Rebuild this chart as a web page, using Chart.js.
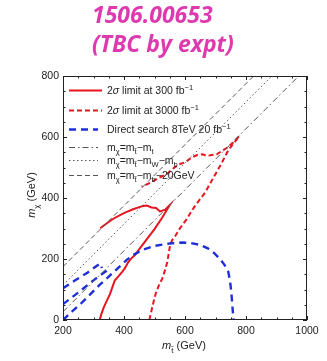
<!DOCTYPE html>
<html>
<head>
<meta charset="utf-8">
<script src="https://cdn.jsdelivr.net/npm/chart.js@4"></script>
<style>
  html, body { margin: 0; padding: 0; background: #fff; overflow: hidden; }
  #wrap { width: 327px; height: 361px; }
</style>
</head>
<body>
<div id="wrap"><canvas id="c" width="327" height="361" style="width:327px;height:361px"></canvas></div>
<script>
// Axis ranges and tick labels (GeV)
const xRange = [200, 1000];
const yRange = [0, 800];
const majorStep = 200;
const minorStep = 50;

// 2 sigma exclusion at 300 fb^-1 (closed contour: lower edge then upper edge)
const limit300 = [
  [320, 0], [326, 20], [333, 40], [343, 62], [354, 85], [362, 108], [370, 130],
  [381, 142], [392, 155], [403, 170], [414, 190], [425, 203], [436, 213],
  [452, 235], [475, 265], [500, 298], [525, 335], [550, 377],
  [535, 362], [518, 356], [505, 367], [490, 369], [475, 375], [463, 374],
  [452, 371], [430, 363], [405, 353], [387, 344], [365, 332], [345, 318], [322, 301]
];

// 2 sigma exclusion at 3000 fb^-1
const limit3000 = [
  [483, 0], [490, 30], [497, 60], [505, 90], [515, 115], [525, 135], [535, 165],
  [542, 190], [547, 220], [551, 245], [558, 262], [567, 274], [585, 303],
  [605, 330], [630, 370], [666, 418], [695, 470], [720, 514], [742, 557], [778, 603],
  [758, 582], [740, 566], [722, 555], [704, 543], [688, 541], [672, 538],
  [658, 543], [640, 541], [622, 533], [600, 517], [580, 510], [560, 496],
  [540, 478], [518, 468], [500, 458], [480, 447], [458, 437]
];

// 8 TeV direct search exclusion contours
const direct8Arc = [
  [200, 0], [230, 28], [260, 55], [290, 85], [320, 115], [350, 142], [380, 170],
  [409, 197], [430, 213], [460, 230], [500, 243], [550, 251], [590, 254],
  [620, 252], [650, 246], [675, 235], [695, 220], [715, 200], [730, 180],
  [742, 158], [748, 125], [752, 90], [755, 50], [759, 0]
];
const direct8StripLow = [[200, 52], [250, 90], [300, 130], [330, 152], [355, 170]];
const direct8StripHigh = [[200, 104], [240, 130], [280, 155], [310, 177], [321, 185], [326, 178], [327, 170]];

// Kinematic boundaries
const lineTop = [[200, 27], [973, 800]];      // m_chi = m_stop - m_t
const lineWb = [[200, 115], [885, 800]];      // m_chi = m_stop - m_W - m_b
const lineB20 = [[200, 175], [825, 800]];     // m_chi = m_stop - m_b - 20 GeV

const toXY = arr => arr.map(([x, y]) => ({ x, y }));

const RED = '#e8151f';
const BLUE = '#1f2fd8';
const GREY = '#555';
const FONT = '"Liberation Sans", Arial, sans-serif';

const lineDs = (data, color, width, dash) => ({
  data: toXY(data), showLine: true, pointRadius: 0, borderColor: color,
  borderWidth: width, borderDash: dash, fill: false, tension: 0,
  borderCapStyle: 'butt'
});

const dsTop = lineDs(lineTop, GREY, 1, [6, 3, 1.5, 3]);
const dsWb = lineDs(lineWb, GREY, 1, [1.5, 2.5]);
const dsB20 = lineDs(lineB20, GREY, 1, [5, 3]);
const dsArc = lineDs(direct8Arc, BLUE, 2.4, [7, 5]);
const dsStripLow = lineDs(direct8StripLow, BLUE, 2.4, [7, 5]);
const dsStripHigh = lineDs(direct8StripHigh, BLUE, 2.4, [7, 5]);
const ds3000 = lineDs(limit3000, RED, 2, [5, 3]);
const ds300 = lineDs(limit300, RED, 2, []);

// Rich text: segments with optional italic / subscript / superscript
function richWidth(ctx, segs, size) {
  let w = 0;
  for (const s of segs) {
    const sz = (s.sub || s.sup) ? size * 0.72 : size;
    ctx.font = `${s.it ? 'italic ' : ''}${sz}px ${FONT}`;
    w += ctx.measureText(s.t).width;
  }
  return w;
}
function rich(ctx, x, y, segs, size) {
  let cx = x;
  for (const s of segs) {
    const sz = (s.sub || s.sup) ? size * 0.72 : size;
    ctx.font = `${s.it ? 'italic ' : ''}${sz}px ${FONT}`;
    const dy = s.sub ? size * 0.32 : s.sup ? -size * 0.42 : 0;
    ctx.fillText(s.t, cx, y + dy);
    cx += ctx.measureText(s.t).width;
  }
}

const legendRows = [
  { ds: ds300, y: 90, len: 33, segs: [{ t: '2' }, { t: 'σ', it: true }, { t: ' limit at 300 fb' }, { t: '−1', sup: true }] },
  { ds: ds3000, y: 110, len: 33, segs: [{ t: '2' }, { t: 'σ', it: true }, { t: ' limit at 3000 fb' }, { t: '−1', sup: true }] },
  { ds: dsArc, y: 129, len: 29, segs: [{ t: 'Direct search 8TeV 20 fb' }, { t: '−1', sup: true }] },
  { ds: dsTop, y: 147, len: 29, segs: [{ t: 'm' }, { t: 'χ', sub: true }, { t: '=m' }, { t: 't̃', sub: true }, { t: '−m' }, { t: 't', sub: true }] },
  { ds: dsWb, y: 160, len: 29, segs: [{ t: 'm' }, { t: 'χ', sub: true }, { t: '=m' }, { t: 't̃', sub: true }, { t: '−m' }, { t: 'W', sub: true }, { t: '−m' }, { t: 'b', sub: true }] },
  { ds: dsB20, y: 175, len: 29, segs: [{ t: 'm' }, { t: 'χ', sub: true }, { t: '=m' }, { t: 't̃', sub: true }, { t: '−m' }, { t: 'b', sub: true }, { t: '−20GeV' }] }
];

const decorations = {
  id: 'decorations',
  afterDraw(chart) {
    const { ctx, chartArea: a, scales: { x, y } } = chart;
    ctx.save();

    // frame and inward ticks on all four sides
    ctx.strokeStyle = '#222';
    ctx.lineWidth = 1;
    ctx.setLineDash([]);
    ctx.strokeRect(a.left + 0.5, a.top + 0.5, a.right - a.left - 1, a.bottom - a.top - 1);
    ctx.beginPath();
    for (let v = xRange[0]; v <= xRange[1]; v += minorStep) {
      const p = Math.round(x.getPixelForValue(v)) + 0.5;
      const L = v % majorStep === 0 ? 4 : 2.5;
      ctx.moveTo(p, a.bottom); ctx.lineTo(p, a.bottom - L);
      ctx.moveTo(p, a.top); ctx.lineTo(p, a.top + L);
    }
    for (let v = yRange[0]; v <= yRange[1]; v += minorStep) {
      const p = Math.round(y.getPixelForValue(v)) + 0.5;
      const L = v % majorStep === 0 ? 4 : 2.5;
      ctx.moveTo(a.left, p); ctx.lineTo(a.left + L, p);
      ctx.moveTo(a.right, p); ctx.lineTo(a.right - L, p);
    }
    ctx.stroke();

    // legend
    ctx.fillStyle = '#222';
    ctx.textBaseline = 'alphabetic';
    ctx.textAlign = 'left';
    for (const r of legendRows) {
      ctx.strokeStyle = r.ds.borderColor;
      ctx.lineWidth = r.ds.borderWidth;
      ctx.setLineDash(r.ds.borderDash);
      ctx.beginPath();
      ctx.moveTo(69, r.y + 0.5); ctx.lineTo(69 + r.len, r.y + 0.5);
      ctx.stroke();
      ctx.fillStyle = '#222';
      rich(ctx, 107, r.y + 4, r.segs, 10.5);
    }
    ctx.setLineDash([]);

    // axis titles
    const xt = [{ t: 'm', it: true }, { t: 't̃', sub: true }, { t: ' (GeV)' }];
    const xw = richWidth(ctx, xt, 11);
    rich(ctx, 184 - xw / 2, 349, xt, 11);
    const yt = [{ t: 'm', it: true }, { t: 'χ', sub: true }, { t: ' (GeV)' }];
    const yw = richWidth(ctx, yt, 11);
    ctx.translate(35, 195);
    ctx.rotate(-Math.PI / 2);
    rich(ctx, -yw / 2, 0, yt, 11);
    ctx.setTransform(1, 0, 0, 1, 0, 0);

    // heading
    ctx.fillStyle = 'rgb(222, 58, 176)';
    ctx.font = 'italic bold 23px "Open Sans", sans-serif';
    ctx.fillText('1506.00653', 92, 23);
    ctx.fillText('(TBC by expt)', 92, 52);
    ctx.restore();
  }
};

new Chart(document.getElementById('c'), {
  type: 'scatter',
  data: { datasets: [dsTop, dsWb, dsB20, dsArc, dsStripLow, dsStripHigh, ds3000, ds300] },
  options: {
    responsive: false,
    animation: false,
    devicePixelRatio: 1,
    layout: { padding: { top: 76, right: 20, left: 0, bottom: 0 } },
    plugins: { legend: { display: false }, tooltip: { enabled: false }, title: { display: false } },
    scales: {
      x: {
        type: 'linear', min: xRange[0], max: xRange[1],
        afterFit: s => { s.height = 41; },
        grid: { display: false, drawTicks: false },
        border: { display: false },
        ticks: { stepSize: majorStep, padding: 5, color: '#222', font: { family: FONT, size: 10.5 }, maxRotation: 0, callback: v => String(v) }
      },
      y: {
        type: 'linear', min: yRange[0], max: yRange[1],
        afterFit: s => { s.width = 63; },
        grid: { display: false, drawTicks: false },
        border: { display: false },
        ticks: { stepSize: majorStep, padding: 4, color: '#222', font: { family: FONT, size: 10.5 }, callback: v => String(v) }
      }
    }
  },
  plugins: [decorations]
});
</script>
</body>
</html>
